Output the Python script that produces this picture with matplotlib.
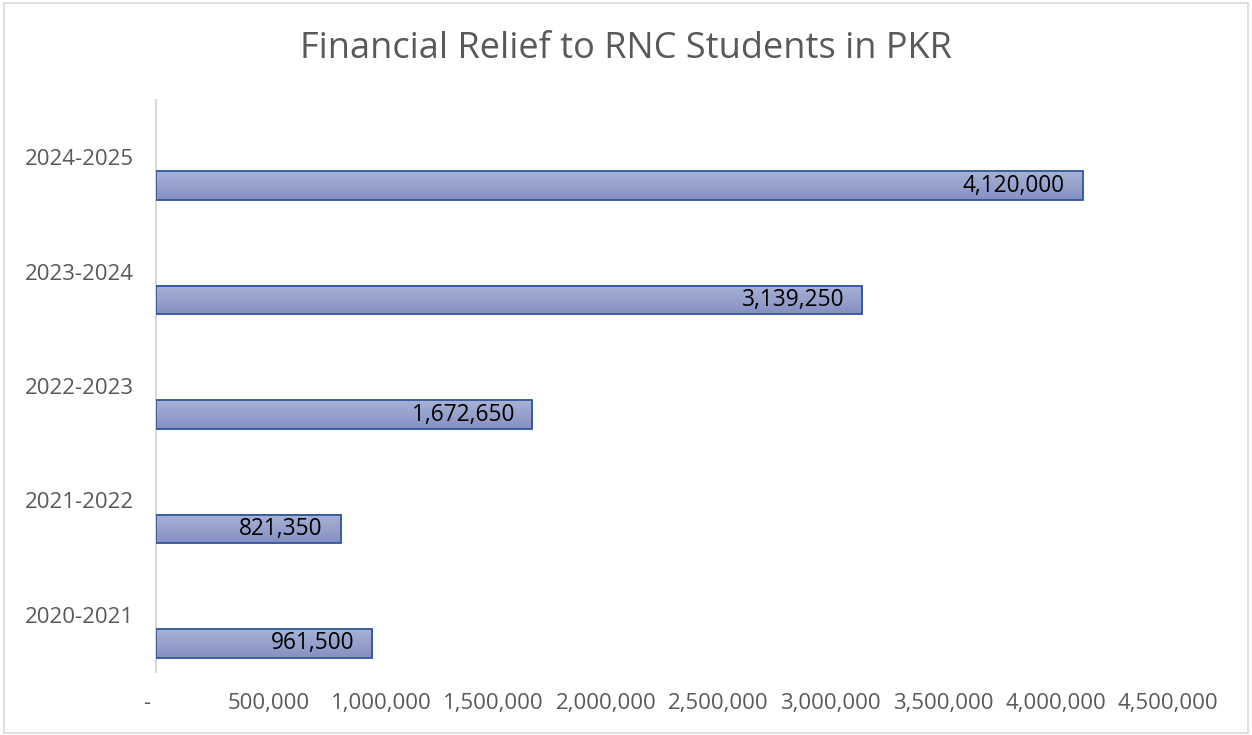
#!/usr/bin/env python3
"""Horizontal bar chart of financial relief to RNC students."""

import matplotlib

matplotlib.use('Agg')
import matplotlib.pyplot as plt
import numpy as np
from matplotlib.colors import LinearSegmentedColormap
from matplotlib.patches import Rectangle

years = ['2020-2021', '2021-2022', '2022-2023', '2023-2024', '2024-2025']
amounts = [961500, 821350, 1672650, 3139250, 4120000]
x_ticks = [0, 500000, 1000000, 1500000, 2000000, 2500000, 3000000, 3500000, 4000000, 4500000]

plt.rcParams['font.family'] = ['Open Sans', 'DejaVu Sans']

fig = plt.figure(figsize=(12.52, 7.35), dpi=100)
ax = fig.add_axes([0.1246, 0.0857, 0.8084, 0.7783])

# outer chart border
fig.patches.append(Rectangle((4 / 1252, 2 / 735), 1244 / 1252, 730 / 735,
                             transform=fig.transFigure, fill=False,
                             edgecolor='#d9d9d9', linewidth=1.2))

pos = np.arange(len(years))
bars = ax.barh(pos - 0.25, amounts, height=0.25, facecolor='none',
               edgecolor='#2f559f', linewidth=1.3, zorder=3)

# lighter on top, darker at the bottom
grad_cmap = LinearSegmentedColormap.from_list('bar', ['#8590c2', '#a7b2d7'])
gradient = np.linspace(0, 1, 64).reshape(-1, 1)
for b in bars:
    x0, y0 = b.get_x(), b.get_y()
    w, h = b.get_width(), b.get_height()
    ax.imshow(gradient, extent=[x0, x0 + w, y0, y0 + h], origin='lower',
              aspect='auto', cmap=grad_cmap, zorder=2)

for p, v in zip(pos, amounts):
    ax.annotate(f'{v:,}', (v, p - 0.25), xytext=(-13, 0), textcoords='offset points',
                ha='right', va='center', fontsize=16.3, color='black', zorder=4)

ax.set_xlim(0, 4500000)
ax.set_ylim(-0.5, 4.5)
ax.set_yticks(pos)
ax.set_yticklabels(years)
ax.set_xticks(x_ticks)
ax.set_xticklabels(['-   '] + [f'{t:,}' for t in x_ticks[1:]])
ax.tick_params(axis='both', length=0, colors='#595959', labelsize=16)
ax.tick_params(axis='x', pad=15)
ax.tick_params(axis='y', pad=16)

for side in ['top', 'right', 'bottom']:
    ax.spines[side].set_visible(False)
ax.spines['left'].set_color('#d9d9d9')
ax.spines['left'].set_linewidth(1.5)

fig.text(0.5, 0.934, 'Financial Relief to RNC Students in PKR', ha='center', va='center',
         fontsize=26, color='#595959')

fig.savefig('out.png', dpi=100)
